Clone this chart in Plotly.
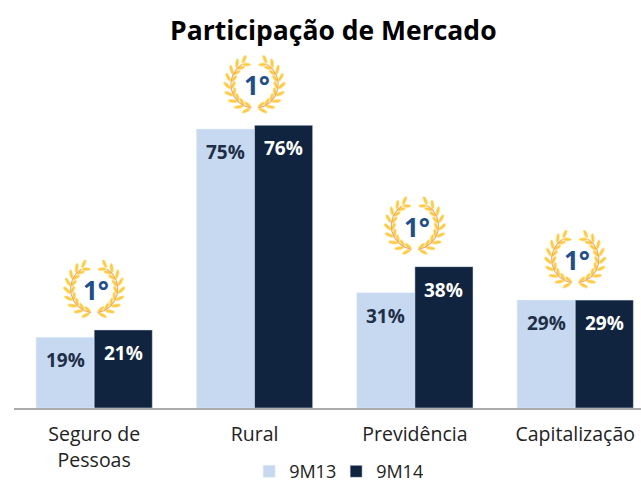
import base64, math
import plotly.graph_objects as go

categories = ["Seguro de<br>Pessoas", "Rural", "Previdência", "Capitalização"]
serie_9m13 = [19, 75, 31, 29]
serie_9m14 = [21, 76, 38, 29]
rank_labels = ["1°", "1°", "1°", "1°"]

LIGHT = "#C6D9F1"
DARK = "#10243F"
FONT = "Open Sans"


def laurel_uri():
    parts = []
    cx, cy, r = 65, 56, 46
    for side in (1, -1):
        pts = []
        for step in range(0, 9):
            a = math.radians(98 + step * 17.5)
            x = cx + r * math.cos(a)
            y = cy + r * math.sin(a)
            pts.append((x, y))
            tangent = math.degrees(a) + 90
            for offset, dist, ln in ((-35, 11, 9), (35, 9, 8)):
                ang = math.radians(tangent + offset)
                lx = x + dist * math.cos(ang)
                ly = y + dist * math.sin(ang)
                sx = lx if side == 1 else 2 * cx - lx
                deg = tangent + offset if side == 1 else 180 - (tangent + offset)
                parts.append(
                    f'<ellipse cx="{sx:.1f}" cy="{ly:.1f}" rx="{ln}" ry="3.2" '
                    f'fill="#FFCB3D" stroke="#FFEDB8" stroke-width="1.2" '
                    f'transform="rotate({deg:.1f} {sx:.1f} {ly:.1f})"/>'
                )
        d = " ".join(
            f"{'M' if i == 0 else 'L'}{(p[0] if side == 1 else 2 * cx - p[0]):.1f},{p[1]:.1f}"
            for i, p in enumerate(pts)
        )
        parts.append(f'<path d="{d}" fill="none" stroke="#F7A06A" stroke-width="2"/>')
    svg = (
        '<svg xmlns="http://www.w3.org/2000/svg" width="130" height="116" '
        f'viewBox="0 0 130 116">{"".join(parts)}</svg>'
    )
    return "data:image/svg+xml;base64," + base64.b64encode(svg.encode()).decode()


fig = go.Figure()
fig.add_bar(name="9M13", x=categories, y=serie_9m13, marker_color=LIGHT)
fig.add_bar(name="9M14", x=categories, y=serie_9m14, marker_color=DARK)

annotations = []
images = []
uri = laurel_uri()
for i, cat in enumerate(categories):
    for shift, vals, col in ((-29, serie_9m13, "#1F2F47"), (29, serie_9m14, "#FFFFFF")):
        annotations.append(dict(
            x=i, y=vals[i], xref="x", yref="y", text=f"{vals[i]}%", showarrow=False,
            xshift=shift, yshift=-23, font=dict(family=FONT, size=19, color=col, weight="bold"),
        ))
    top = max(serie_9m13[i], serie_9m14[i])
    images.append(dict(
        source=uri, xref="x", yref="y", x=i, y=top + 10.7, sizex=67 / 160.3, sizey=60 / 3.72,
        xanchor="center", yanchor="middle", sizing="stretch", layer="above",
    ))
    annotations.append(dict(
        x=i, y=top, xref="x", yref="y", text=rank_labels[i], showarrow=False,
        xshift=2, yshift=40, font=dict(family=FONT, size=26, color="#1F4E8C", weight="bold"),
    ))

fig.update_layout(
    width=641, height=482, paper_bgcolor="white", plot_bgcolor="white",
    margin=dict(l=14, r=0, t=36, b=74, autoexpand=False),
    barmode="group", bargap=0.275, bargroupgap=0,
    title=dict(text="Participação de Mercado", x=0.52, xanchor="center", y=0.937, yanchor="middle",
               font=dict(family=FONT, size=26.5, color="black", weight="bold")),
    xaxis=dict(range=[-0.5, 3.41], automargin=False, showline=True, linecolor="#ABABAB", linewidth=2,
               ticks="", ticklabelstandoff=8, tickfont=dict(family=FONT, size=19.5, color="#222222")),
    yaxis=dict(range=[0, 100], visible=False, showgrid=False, automargin=False),
    showlegend=True,
    legend=dict(orientation="h", x=0.375, xanchor="left", y=-0.171, yanchor="middle",
                entrywidth=42, entrywidthmode="pixels", itemclick=False, itemdoubleclick=False,
                font=dict(family=FONT, size=18, color="#222222")),
    annotations=annotations, images=images,
)
fig.write_html("out.html", config=dict(displayModeBar=False),
               post_script="document.body.style.margin='0';document.body.style.overflow='hidden';")
